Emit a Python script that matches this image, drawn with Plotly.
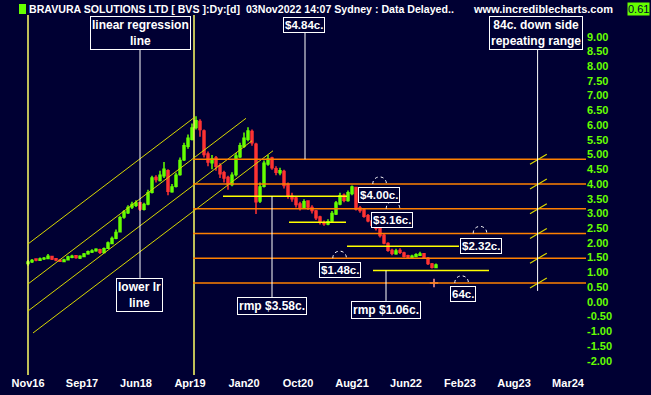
import plotly.graph_objects as go

# ---------------- data ----------------
tick_labels = ["Nov16", "Sep17", "Jun18", "Apr19", "Jan20", "Oct20",
               "Aug21", "Jun22", "Feb23", "Aug23", "Mar24"]
tick_bars = [0, 13.5, 27, 40.5, 54, 67.5, 81, 94.5, 108, 121.5, 135]

opens = [1.30, 1.36, 1.45, 1.41, 1.46, 1.47, 1.54, 1.46, 1.41, 1.37,
         1.43, 1.51, 1.56, 1.49, 1.54, 1.63, 1.69, 1.73, 1.77, 1.67,
         1.82, 1.98, 2.16, 2.38, 2.88, 3.02, 3.22, 3.28, 3.36, 3.14,
         3.32, 3.72, 4.22, 4.12, 4.28, 4.45, 3.74, 3.92, 4.32, 4.82,
         5.28, 5.52, 5.92, 6.12, 5.80, 5.02, 4.72, 4.88, 4.62, 4.38,
         4.22, 3.98, 4.32, 4.92, 5.28, 5.52, 5.78, 5.35, 3.42, 3.92,
         4.68, 4.88, 4.52, 4.38, 4.42, 3.98, 3.58, 3.52, 3.32, 3.18,
         3.42, 3.20, 3.08, 2.88, 2.68, 2.64, 2.74, 2.98, 3.32, 3.62,
         3.44, 3.68, 3.88, 3.18, 3.12, 2.92, 2.74, 2.62, 2.48, 2.26,
         1.98, 1.74, 1.63, 1.74, 1.66, 1.56, 1.50, 1.54, 1.58, 1.63,
         1.48, 1.28, 1.16]
highs = [1.42, 1.45, 1.48, 1.50, 1.52, 1.62, 1.56, 1.48, 1.44, 1.46,
         1.56, 1.60, 1.58, 1.58, 1.66, 1.74, 1.78, 1.82, 1.80, 1.84,
         2.05, 2.22, 2.45, 2.92, 3.12, 3.28, 3.40, 3.45, 3.40, 3.36,
         3.80, 4.28, 4.30, 4.45, 4.75, 4.50, 4.00, 4.38, 4.90, 5.40,
         5.68, 6.05, 6.30, 6.20, 5.85, 5.10, 4.98, 4.95, 4.70, 4.45,
         4.28, 4.40, 5.05, 5.40, 5.75, 5.93, 5.85, 5.40, 4.05, 4.80,
         4.98, 4.92, 4.60, 4.55, 4.48, 4.05, 3.70, 3.58, 3.40, 3.48,
         3.45, 3.28, 3.12, 2.92, 2.76, 2.80, 3.08, 3.42, 3.70, 3.68,
         3.78, 3.95, 3.90, 3.25, 3.15, 2.98, 2.80, 2.66, 2.52, 2.30,
         2.02, 1.80, 1.80, 1.82, 1.70, 1.60, 1.60, 1.65, 1.70, 1.66,
         1.52, 1.32, 1.30]
lows = [1.22, 1.32, 1.38, 1.39, 1.42, 1.45, 1.42, 1.38, 1.35, 1.35,
        1.41, 1.48, 1.46, 1.45, 1.52, 1.60, 1.66, 1.70, 1.62, 1.65,
        1.80, 1.95, 2.12, 2.35, 2.82, 2.98, 3.15, 3.22, 3.08, 3.10,
        3.28, 3.68, 4.05, 4.08, 4.20, 3.62, 3.70, 3.88, 4.28, 4.78,
        5.20, 5.48, 5.85, 5.60, 4.90, 4.60, 4.50, 4.45, 4.20, 4.05,
        3.80, 3.92, 4.25, 4.88, 5.22, 5.45, 5.30, 2.98, 3.35, 3.88,
        4.62, 4.48, 4.30, 4.30, 3.85, 3.50, 3.40, 3.20, 3.10, 3.15,
        3.12, 3.00, 2.78, 2.62, 2.58, 2.60, 2.70, 2.95, 3.28, 3.38,
        3.40, 3.62, 3.10, 3.02, 2.85, 2.70, 2.55, 2.42, 2.18, 1.95,
        1.70, 1.58, 1.60, 1.62, 1.50, 1.48, 1.48, 1.52, 1.56, 1.46,
        1.25, 1.13, 1.14]
closes = [1.35, 1.40, 1.42, 1.45, 1.48, 1.55, 1.45, 1.42, 1.38, 1.42,
          1.52, 1.55, 1.50, 1.55, 1.62, 1.70, 1.72, 1.78, 1.68, 1.80,
          2.00, 2.15, 2.35, 2.85, 3.05, 3.20, 3.30, 3.35, 3.15, 3.30,
          3.70, 4.20, 4.15, 4.30, 4.50, 3.75, 3.90, 4.30, 4.80, 5.30,
          5.55, 5.90, 6.15, 5.85, 5.00, 4.75, 4.85, 4.60, 4.35, 4.20,
          4.00, 4.30, 4.95, 5.30, 5.55, 5.80, 5.40, 3.40, 3.90, 4.70,
          4.85, 4.55, 4.40, 4.45, 3.95, 3.60, 3.50, 3.30, 3.20, 3.40,
          3.22, 3.10, 2.85, 2.70, 2.65, 2.72, 3.00, 3.35, 3.60, 3.45,
          3.70, 3.90, 3.15, 3.10, 2.90, 2.75, 2.60, 2.50, 2.25, 2.00,
          1.75, 1.65, 1.72, 1.68, 1.55, 1.52, 1.55, 1.60, 1.62, 1.50,
          1.30, 1.17, 1.25]
bars = list(range(len(closes)))

# repeating range levels (84c apart)
levels = [4.84, 4.00, 3.16, 2.32, 1.48, 0.64]
level_start = 41.25
range_bar = 127.4

# regression channel lines: (bar0, price0, bar1, price1)
reg_x0 = [0, 0, 0, 1.25]
reg_y0 = [1.963, 0.604, -0.312, -1.059]
reg_x1 = [41.75, 54.5, 56, 61.25]
reg_y1 = [6.276, 6.23, 5.467, 5.127]

# yellow vertical marker bars
vline_bars = [0, 41.5]

# rmp / support lines: price, start bar, end bar
rmp_prices = [3.58, 2.70, 1.885, 1.06]
rmp_start = [48.75, 65.25, 79.75, 86.25]
rmp_end = [79.75, 79.5, 107.75, 115.25]

# arcs above level labels
arc_bars = [87.9, 91.25, 77.9, 113.0, 108.4]
arc_levels = [4.00, 3.16, 1.48, 2.32, 0.64]

# labels: text, bar, price
label_text = ["$4.84c.", "linear regression<br>line", "84c. down side<br>repeating range",
              "lower lr<br>line", "rmp $3.58c.", "rmp $1.06c.", "$4.00c.", "$3.16c.",
              "$1.48c.", "$2.32c.", "64c."]
label_bar = [69.1, 28, 127.1, 27.75, 61, 89.5, 87.75, 90.9, 78.1, 113.25, 108.75]
label_price = [9.40, 9.13, 9.13, 0.23, -0.14, -0.28, 3.61, 2.76, 1.063, 1.91, 0.248]
label_big = [False, True, True, True, True, True, False, False, False, False, False]

# white connector lines: bar, price from, price to
conn_bar = [69.25, 28, 127.4, 61, 89.5]
conn_from = [9.13, 8.58, 8.58, 3.58, 1.06]
conn_to = [4.84, 0.81, 0.37, 0.16, 0.03]

marker_bar = [101.5]
marker_price = [0.64]

y_ticks = [-2.0 + 0.5 * i for i in range(23)]

# ---------------- figure ----------------
BG = "#000033"
FONT = "Liberation Sans"

fig = go.Figure()
fig.add_trace(go.Candlestick(
    x=bars, open=opens, high=highs, low=lows, close=closes,
    increasing=dict(line=dict(color="#66ff00", width=1.5), fillcolor="#66ff00"),
    decreasing=dict(line=dict(color="#ff3333", width=1.5), fillcolor="#ff3333"),
    whiskerwidth=0, hoverinfo="skip"))

fig.add_trace(go.Scatter(
    x=marker_bar, y=marker_price, mode="markers",
    marker=dict(symbol="cross-thin", size=6, line=dict(color="#ff9999", width=1.5))))

shapes = []
for b in vline_bars:
    shapes.append(dict(type="line", xref="x", yref="paper", x0=b, x1=b, y0=0, y1=1,
                       line=dict(color="#ffff66", width=1.5)))
for x0, y0, x1, y1 in zip(reg_x0, reg_y0, reg_x1, reg_y1):
    shapes.append(dict(type="line", x0=x0, y0=y0, x1=x1, y1=y1,
                       line=dict(color="#d8d800", width=1)))
for lv in levels:
    shapes.append(dict(type="line", x0=level_start, x1=140, y0=lv, y1=lv,
                       line=dict(color="#ff8000", width=1.5)))
    shapes.append(dict(type="line", x0=range_bar + 0.2 - 2.1, x1=range_bar + 0.2 + 2.1,
                       y0=lv - 0.17, y1=lv + 0.17, line=dict(color="#d8d800", width=1.2)))
for p, s, e in zip(rmp_prices, rmp_start, rmp_end):
    shapes.append(dict(type="line", x0=s, x1=e, y0=p, y1=p,
                       line=dict(color="#ffff00", width=1.5)))
for b, f, t in zip(conn_bar, conn_from, conn_to):
    shapes.append(dict(type="line", x0=b, x1=b, y0=f, y1=t,
                       line=dict(color="#ffffff", width=1)))
for b, lv in zip(arc_bars, arc_levels):
    hw, h = 1.7, 0.32
    path = f"M {b-hw},{lv} C {b-hw},{lv+h} {b+hw},{lv+h} {b+hw},{lv}"
    shapes.append(dict(type="path", path=path, line=dict(color="#ffffff", width=1, dash="dot")))

# header green marker
shapes.append(dict(type="rect", xref="paper", yref="paper",
                   x0=16 / 583, x1=23 / 583, y0=(375 - 14) / 360, y1=(375 - 4) / 360,
                   fillcolor="#66ff00", line=dict(width=0)))

annotations = []
for txt, b, p, big in zip(label_text, label_bar, label_price, label_big):
    annotations.append(dict(x=b, y=p, text=txt, showarrow=False, xanchor="center", yanchor="middle",
                            font=dict(family=FONT, size=12 if big else 11.5, color="white", weight="bold"),
                            bgcolor=BG, bordercolor="white", borderwidth=1, borderpad=1))

annotations.append(dict(xref="paper", yref="paper", x=(542.5 - 3) / 583, y=(375 - 9) / 360,
                        xanchor="center", yanchor="middle",
                        text="www.incrediblecharts.com", showarrow=False,
                        font=dict(family=FONT, size=11, color="white", weight="bold")))
annotations.append(dict(xref="paper", yref="paper", x=(638 - 3) / 583, y=(375 - 9) / 360,
                        xanchor="center", yanchor="middle",
                        text="0.61", showarrow=False, bgcolor="#66ff00", borderpad=0,
                        font=dict(family=FONT, size=11, color="#000033")))

fig.update_layout(
    width=651, height=395,
    margin=dict(l=3, r=65, t=15, b=20),
    paper_bgcolor=BG, plot_bgcolor=BG,
    showlegend=False,
    title=dict(text="BRAVURA SOLUTIONS LTD [ BVS ]:Dy:[d]  03Nov2022 14:07 Sydney : Data Delayed..",
               x=29 / 651, y=1 - 9 / 395, xanchor="left", yanchor="middle",
               font=dict(family=FONT, size=10.6, color="white", weight="bold")),
    shapes=shapes, annotations=annotations,
    xaxis=dict(range=[-6.25, 139.5], tickvals=tick_bars, ticktext=tick_labels,
               showgrid=False, zeroline=False, showline=False, ticks="",
               rangeslider=dict(visible=False),
               tickfont=dict(family=FONT, size=11, color="white", weight="bold")),
    yaxis=dict(range=[-2.486, 9.737], side="right", tickvals=y_ticks,
               ticktext=[f"{v:.2f}" for v in y_ticks],
               showgrid=False, zeroline=False, showline=False, ticks="",
               tickfont=dict(family=FONT, size=11, color="#66ff00", weight="bold")),
)

fig.write_html("out.html", config={"displayModeBar": False},
               post_script="document.body.style.margin='0';document.body.style.background='#000033';")
